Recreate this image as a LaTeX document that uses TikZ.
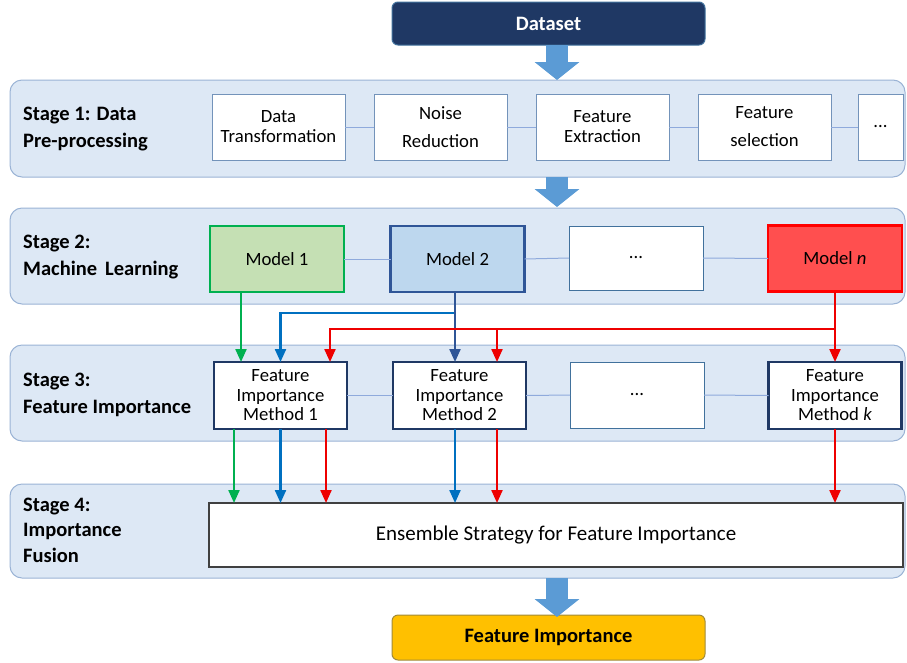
\documentclass[tikz,border=0pt]{standalone}
\usepackage{fontspec}
\setmainfont{Carlito}
\usetikzlibrary{arrows.meta,calc}
\definecolor{navy}{HTML}{1F3864}
\definecolor{navyedge}{HTML}{41719C}
\definecolor{blockarrow}{HTML}{5B9BD5}
\definecolor{panelfill}{HTML}{DDE8F5}
\definecolor{paneledge}{HTML}{9AB3D5}
\definecolor{boxedge}{HTML}{7393BA}
\definecolor{linkline}{HTML}{8FAADC}
\definecolor{mgreenfill}{HTML}{C5E0B4}
\definecolor{mgreen}{HTML}{00B050}
\definecolor{mbluefill}{HTML}{BDD7EE}
\definecolor{mblue}{HTML}{2F5597}
\definecolor{mredfill}{HTML}{FF4F4F}
\definecolor{mred}{HTML}{FF0000}
\definecolor{fimedge}{HTML}{1F3864}
\definecolor{abl}{HTML}{0070C0}
\definecolor{ared}{HTML}{EE0000}
\definecolor{gold}{HTML}{FFC000}
\definecolor{goldedge}{HTML}{A08A3A}
\begin{document}
\begin{tikzpicture}[x=1pt,y=-1pt,
  panel/.style={draw=paneledge, fill=panelfill, line width=1pt, rounded corners=12pt, minimum width=895pt, outer sep=0pt, inner sep=0pt},
  stagelbl/.style={anchor=west, inner sep=0pt, align=left, font=\bfseries\fontsize{20.5}{27}\selectfont},
  sbox/.style={draw=boxedge, fill=white, line width=1pt, minimum width=133pt, minimum height=66pt, inner sep=0pt, outer sep=0pt, align=center, font=\fontsize{18.7}{20}\selectfont},
  mbox/.style={line width=2.6pt, minimum width=134pt, minimum height=66pt, inner sep=0pt, outer sep=0pt, align=center, font=\fontsize{18.7}{20}\selectfont},
  fbox/.style={draw=fimedge, fill=white, line width=2.6pt, minimum width=133pt, minimum height=67pt, inner sep=0pt, outer sep=0pt, align=center, font=\fontsize{18.7}{19.5}\selectfont},
  link/.style={draw=linkline, line width=1pt},
  barrow/.style={draw=blockarrow, line width=22pt, -{Triangle[length=18pt,width=44pt]}},
  carrow/.style={line width=2.2pt, -{Triangle[length=13pt,width=11pt]}},
  tbox/.style={rounded corners=6pt, line width=1pt, minimum width=313pt, inner sep=0pt, outer sep=0pt, font=\bfseries\fontsize{20.5}{24}\selectfont}
]
\useasboundingbox (0,0) rectangle (907,662);

% top and bottom boxes
\node[tbox, draw=navyedge, fill=navy, text=white, minimum height=43pt] (ds) at (548.5,23.5) {Dataset};
\node[tbox, draw=goldedge, fill=gold, text=black, minimum height=45pt] (fi) at (548.5,637.5) {Feature Importance};

% panels
\node[panel, minimum height=97pt] (p1) at (457.5,128.5) {};
\node[panel, minimum height=96pt] (p2) at (457.5,256) {};
\node[panel, minimum height=96pt] (p3) at (457.5,393) {};
\node[panel, minimum height=94pt] (p4) at (457.5,531) {};

% block arrows
\draw[barrow] (ds.south -| 557,0) -- (p1.north -| 557,0);
\draw[barrow] (p1.south -| 557,0) -- ([yshift=1pt]p2.north -| 557,0);
\draw[barrow] (p4.south -| 557,0) -- ([yshift=-2pt]fi.north -| 557,0);

% stage labels
\node[stagelbl] (s1) at (23,129) {Stage 1: Data\\Pre-processing};
\node[stagelbl] (s2) at (23,257) {Stage 2:\\Machine\, Learning};
\node[stagelbl] (s3) at (23,395) {Stage 3:\\Feature Importance};
\node[stagelbl, font=\bfseries\fontsize{20.5}{25.5}\selectfont] (s4) at (23,530) {Stage 4:\\Importance\\Fusion};

% stage 1 boxes
\node[sbox] (a1) at (278.5,127) {Data\\Transformation};
\node[sbox, font=\fontsize{18.7}{28}\selectfont] (a2) at (440.5,127) {Noise\\Reduction};
\node[sbox] (a3) at (602.5,127) {Feature\\Extraction};
\node[sbox, font=\fontsize{18.7}{28}\selectfont] (a4) at (764.5,127) {Feature\\selection};
\node[sbox, minimum width=45pt] (a5) at (880.5,127) {...};
\draw[link] (a1.east) -- (a2.west);
\draw[link] (a2.east) -- (a3.west);
\draw[link] (a3.east) -- (a4.west);
\draw[link] (a4.east) -- (a5.west);

% stage 2 models
\node[mbox, draw=mgreen, fill=mgreenfill] (m1) at (277,259) {Model 1};
\node[mbox, draw=mblue, fill=mbluefill] (m2) at (457.5,259) {Model 2};
\node[sbox, draw=navyedge, minimum width=134pt, minimum height=64pt] (m3) at (636,258) {...};
\node[mbox, draw=mred, fill=mredfill] (mn) at (835,258.5) {Model \textit{n}};
\draw[link] (m1.east) -- (m2.west);
\draw[link] (m2.east) -- (m3.west);
\draw[link] (m3.east) -- (mn.west);

% stage 3 methods
\node[fbox] (f1) at (280.5,395.5) {Feature\\Importance\\Method 1};
\node[fbox] (f2) at (459.5,395.5) {Feature\\Importance\\Method 2};
\node[sbox, draw=navyedge, minimum width=134pt, minimum height=66pt] (f3) at (637,395) {...};
\node[fbox] (fk) at (835,395.5) {Feature\\Importance\\Method \textit{k}};
\draw[link] (f1.east) -- (f2.west);
\draw[link] (f2.east) -- (f3.west);
\draw[link] (f3.east) -- (fk.west);

% stage 4
\node[draw=black!75, fill=white, line width=1.2pt, minimum width=694pt, minimum height=64pt, inner sep=0pt, outer sep=0pt, font=\fontsize{21}{24}\selectfont] (en) at (556,535) {Ensemble Strategy for Feature Importance};

% junction coordinates
\coordinate (bj) at (455,313);
\coordinate (rj) at (835,329);

% connectors stage 2 -> stage 3
\draw[carrow, draw=mgreen, -{Triangle[length=13pt,width=11pt]}, color=mgreen] ([xshift=-36pt]m1.south) -- ([xshift=-36pt]m1.south |- f1.north);
\draw[carrow, color=abl] (bj) -| (f1.north);
\draw[carrow, color=mblue] ([xshift=-2.5pt]m2.south) -- ([xshift=-2.5pt]m2.south |- f2.north);
\draw[carrow, color=ared] (rj) -| ([xshift=49.5pt]f1.north);
\draw[carrow, color=ared] (rj) -| ([xshift=37.5pt]f2.north);
\draw[carrow, color=ared] (mn.south) -- (fk.north);

% connectors stage 3 -> stage 4
\draw[carrow, color=mgreen] ([xshift=-46.5pt]f1.south) -- ([xshift=-46.5pt]f1.south |- en.north);
\draw[carrow, color=abl] (f1.south) -- (f1.south |- en.north);
\draw[carrow, color=ared] ([xshift=45.5pt]f1.south) -- ([xshift=45.5pt]f1.south |- en.north);
\draw[carrow, color=abl] ([xshift=-4.5pt]f2.south) -- ([xshift=-4.5pt]f2.south |- en.north);
\draw[carrow, color=ared] ([xshift=37.5pt]f2.south) -- ([xshift=37.5pt]f2.south |- en.north);
\draw[carrow, color=ared] (fk.south) -- (fk.south |- en.north);
\end{tikzpicture}
\end{document}
